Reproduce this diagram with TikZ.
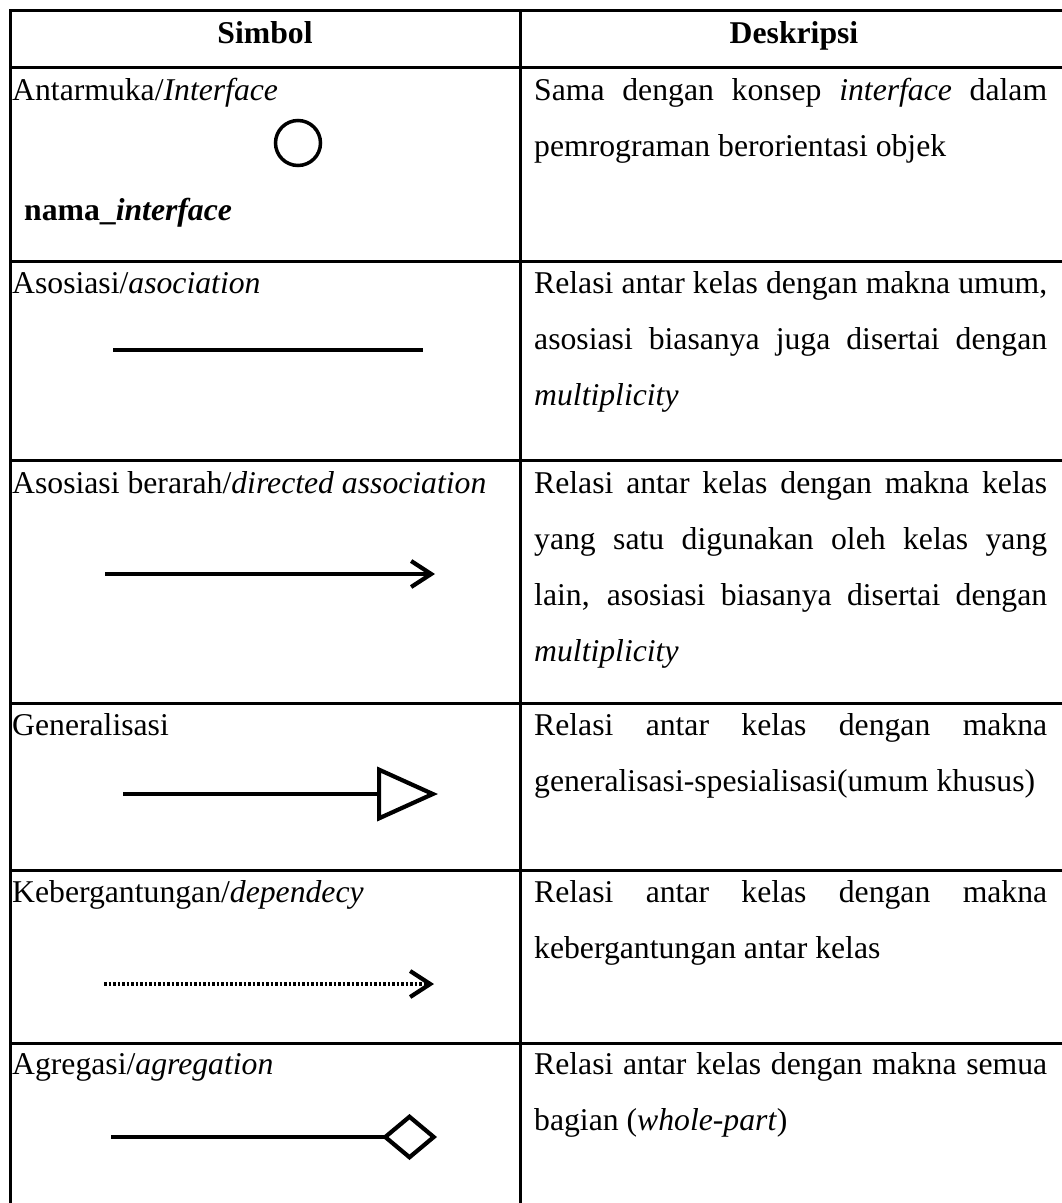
\documentclass[tikz,border=0pt]{standalone}
\usepackage{fontspec}
\setmainfont{Liberation Serif}
\usetikzlibrary{arrows.meta}
\newcommand\tsz{\fontsize{31.7pt}{56pt}\selectfont}
\newcommand\jl[1]{\makebox[513pt][s]{#1}}
\begin{document}
\begin{tikzpicture}[x=1pt,y=-1pt,
  rule/.style={line width=3pt},
  sym/.style={line width=4.2pt},
  lbl/.style={anchor=base west, inner sep=0pt, font=\tsz},
  hdr/.style={anchor=base, inner sep=0pt, font=\tsz\bfseries},
]
\clip (0,0) rectangle (1062,1203);
\fill[white] (0,0) rectangle (1062,1203);
% table rules
\draw[rule] (1080,10) -| (10,1220);
\draw[rule] (520,10) -- (520,1220);
\foreach \y in {67,261,460,703,870,1043} \draw[rule] (10,\y) -- (1080,\y);
% header
\node[hdr] (hS) at (265,43) {Simbol};
\node[hdr] (hD) at (794,43) {Deskripsi};
% row 1: interface
\node[lbl] (l1) at (12,100) {Antarmuka/\textit{Interface}};
\node[circle,draw,line width=3.5pt,minimum size=45pt,inner sep=0pt] (iface) at (298,143) {};
\node[lbl,font=\tsz\bfseries] (l1n) at (24,220) {nama\_\textit{interface}};
\node[lbl] (d1a) at (534,100) {\jl{Sama dengan konsep \textit{interface} dalam}};
\node[lbl] (d1b) at (534,156) {pemrograman berorientasi objek};
% row 2: association
\node[lbl] (l2) at (12,293) {Asosiasi/\textit{asociation}};
\coordinate (a2s) at (113,350);
\coordinate (a2e) at (423,350);
\draw[sym] (a2s) -- (a2e);
\node[lbl] (d2a) at (534,293) {\jl{Relasi antar kelas dengan makna umum,}};
\node[lbl] (d2b) at (534,349) {\jl{asosiasi biasanya juga disertai dengan}};
\node[lbl] (d2c) at (534,405) {\textit{multiplicity}};
% row 3: directed association
\node[lbl] (l3) at (12,493) {Asosiasi berarah/\textit{directed association}};
\coordinate (a3s) at (105,574);
\coordinate (a3e) at (435,574);
\draw[sym,-{Straight Barb[length=20pt,width=26pt]}] (a3s) -- (a3e);
\node[lbl] (d3a) at (534,493) {\jl{Relasi antar kelas dengan makna kelas}};
\node[lbl] (d3b) at (534,549) {\jl{yang satu digunakan oleh kelas yang}};
\node[lbl] (d3c) at (534,605) {\jl{lain, asosiasi biasanya disertai dengan}};
\node[lbl] (d3d) at (534,661) {\textit{multiplicity}};
% row 4: generalization
\node[lbl] (l4) at (12,735) {Generalisasi};
\coordinate (a4s) at (123,794);
\coordinate (a4e) at (438,794);
\draw[sym,-{Triangle[open,length=61pt,width=54pt]}] (a4s) -- (a4e);
\node[lbl] (d4a) at (534,735) {\jl{Relasi antar kelas dengan makna}};
\node[lbl] (d4b) at (534,791) {generalisasi-spesialisasi(umum khusus)};
% row 5: dependency
\node[lbl] (l5) at (12,902) {Kebergantungan/\textit{dependecy}};
\coordinate (a5s) at (104,984);
\coordinate (a5e) at (434,984);
\draw[sym,dash pattern=on 2.6pt off 1.9pt,-{Straight Barb[length=20pt,width=26pt]}] (a5s) -- (a5e);
\node[lbl] (d5a) at (534,902) {\jl{Relasi antar kelas dengan makna}};
\node[lbl] (d5b) at (534,958) {kebergantungan antar kelas};
% row 6: aggregation
\node[lbl] (l6) at (12,1074) {Agregasi/\textit{agregation}};
\coordinate (a6s) at (111,1137);
\coordinate (a6e) at (437,1137);
\draw[sym,-{Diamond[open,length=55pt,width=46pt]}] (a6s) -- (a6e);
\node[lbl] (d6a) at (534,1074) {\jl{Relasi antar kelas dengan makna semua}};
\node[lbl] (d6b) at (534,1130) {bagian (\textit{whole-part})};
\end{tikzpicture}
\end{document}
